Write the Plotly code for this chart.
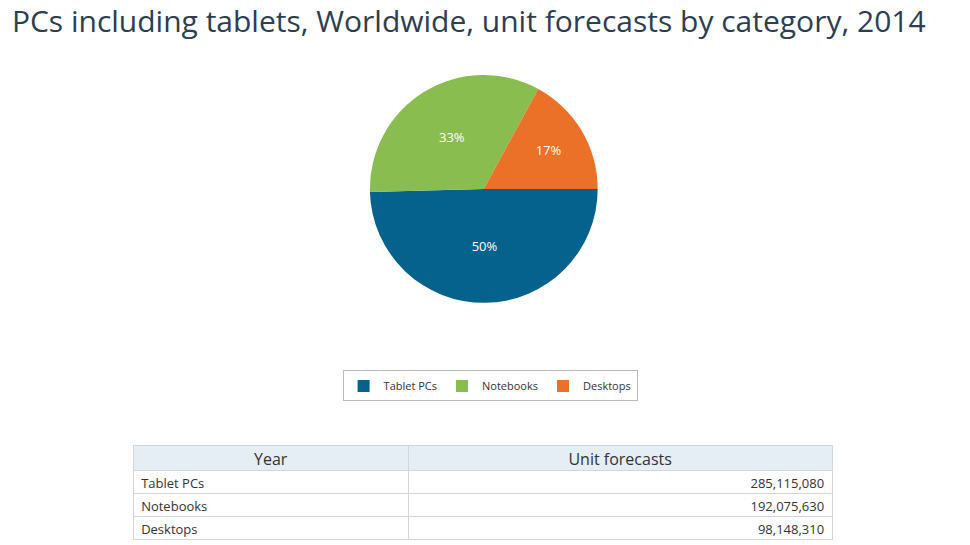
import plotly.graph_objects as go

categories = ["Tablet PCs", "Notebooks", "Desktops"]
units = [285115080, 192075630, 98148310]
colors = ["#04628c", "#8abd4f", "#eb7128"]
col_headers = ["Year", "Unit forecasts"]

fig = go.Figure()
fig.add_trace(go.Pie(
    labels=categories, values=units, sort=False, direction="clockwise", rotation=90,
    marker=dict(colors=colors), textinfo="percent", textposition="inside",
    texttemplate="%{percent:.0%}",
    textfont=dict(color="white", size=13, family="Open Sans"),
    insidetextorientation="horizontal",
    domain=dict(x=[0.373, 0.608], y=[0.459, 0.877]), hoverinfo="label+value+percent",
))
fig.add_trace(go.Table(
    domain=dict(x=[0.129, 0.850], y=[0.009, 0.198]),
    columnwidth=[275, 424],
    header=dict(values=col_headers, fill_color="#e4eef4", line_color="#cfd8de",
                align="center", height=25,
                font=dict(size=16, color="#333", family="Open Sans")),
    cells=dict(values=[categories, [f"{v:,}" for v in units]], fill_color="white",
               line_color="#d5d5d5", align=["left", "right"], height=23,
               font=dict(size=13, color="#333", family="Open Sans")),
))
fig.update_layout(
    width=970, height=545, margin=dict(l=0, r=0, t=0, b=0),
    paper_bgcolor="white", plot_bgcolor="white",
    title=dict(text="PCs including tablets, Worldwide, unit forecasts by category, 2014",
               x=0.004, xanchor="left", y=0.975, yanchor="middle",
               font=dict(size=30, color="#2c3e50", family="Open Sans")),
    legend=dict(orientation="h", x=0.497, xanchor="center", y=0.335, yanchor="top",
                bordercolor="#bbbbbb", borderwidth=1, itemwidth=30,
                font=dict(size=11, color="#333", family="Open Sans")),
)
fig.write_html("out.html")
